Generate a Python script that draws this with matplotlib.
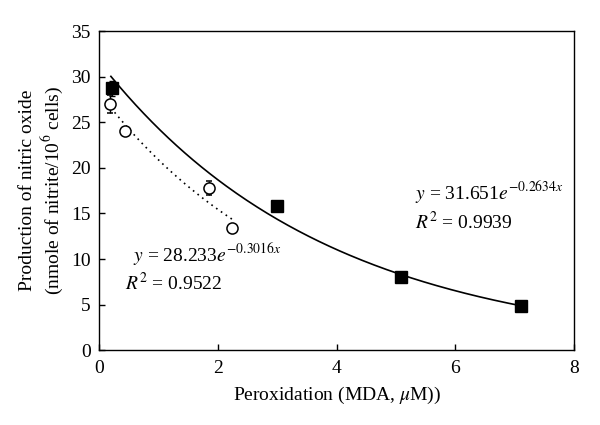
import numpy as np
import matplotlib
matplotlib.use("Agg")
import matplotlib.pyplot as plt

plt.rcParams['font.family'] = ['Liberation Serif', 'DejaVu Serif']
plt.rcParams['mathtext.fontset'] = 'stix'

# Data
sq_x = [0.22, 3.0, 5.09, 7.1]
sq_y = [28.7, 15.8, 8.0, 4.8]
sq_err = [0.8, 0, 0, 0]
ci_x = [0.19, 0.44, 1.85, 2.24]
ci_y = [27.0, 24.0, 17.8, 13.4]
ci_err = [1.0, 0, 0.8, 0]
fit_sq = (31.651, -0.2634)
fit_ci = (28.233, -0.3016)

fig = plt.figure(figsize=(6, 4.25), dpi=100)
ax = fig.add_axes([0.165, 0.176, 0.792, 0.751])

xs = np.linspace(0.2, 7.1, 200)
ax.plot(xs, fit_sq[0] * np.exp(fit_sq[1] * xs), color='black', lw=1.2, zorder=2)
xc = np.linspace(0.2, 2.25, 100)
ax.plot(xc, fit_ci[0] * np.exp(fit_ci[1] * xc), color='black', lw=1.2, ls=(0, (1, 2.5)), zorder=2)

ax.errorbar(sq_x, sq_y, yerr=sq_err, fmt='s', color='black', ms=8, capsize=2, elinewidth=1, zorder=4)
ax.errorbar(ci_x, ci_y, yerr=ci_err, fmt='o', mfc='white', mec='black', ecolor='black',
            ms=8, mew=1.1, capsize=2, elinewidth=1, zorder=3)

ax.set_xlim(0, 8)
ax.set_ylim(0, 35)
ax.set_xticks([0, 2, 4, 6, 8])
ax.set_yticks(range(0, 36, 5))
ax.tick_params(direction='in', length=4, labelsize=14, width=1)
ax.tick_params(axis='x', pad=7)
ax.tick_params(axis='y', pad=6)
for s in ax.spines.values():
    s.set_linewidth(1)

ax.set_xlabel('Peroxidation (MDA, $\\mu$M))', fontsize=14, labelpad=6)
ax.set_ylabel('Production of nitric oxide\n(nmole of nitrite/10$^6$ cells)', fontsize=14, linespacing=1.2)

ax.text(0.57, 10.5, '$y$ = 28.233$e^{-0.3016x}$', fontsize=14, va='center')
ax.text(0.44, 7.4, '$R^2$ = 0.9522', fontsize=14, va='center')
ax.text(5.32, 17.3, '$y$ = 31.651$e^{-0.2634x}$', fontsize=14, va='center')
ax.text(5.32, 14.0, '$R^2$ = 0.9939', fontsize=14, va='center')

fig.savefig('out.png', dpi=100)
